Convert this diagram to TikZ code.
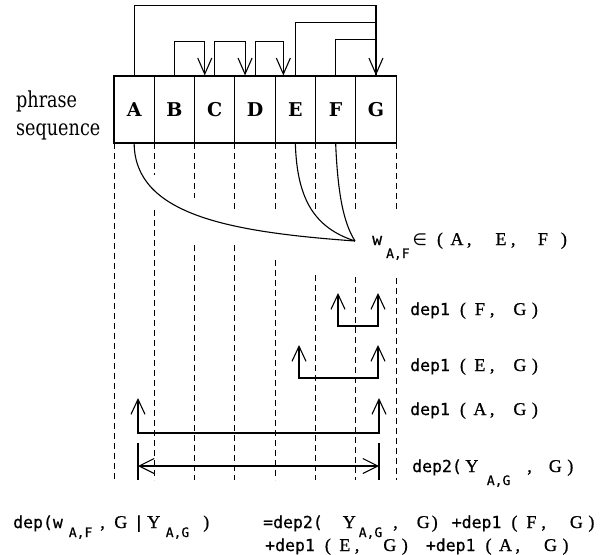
\documentclass[tikz,border=0pt]{standalone}
\usepackage{fontspec}
\setmainfont{DejaVu Serif}
\newfontfamily\phfont[FakeStretch=0.8]{DejaVu Serif}
\newfontfamily\labfont[FakeBold=0.6]{DejaVu Sans Mono}
\newfontfamily\ltfont[FakeBold=0.8]{Liberation Serif}
\newfontfamily\symfont{DejaVu Sans}
\usetikzlibrary{arrows.meta}
\newcommand\lt{\ltfont\fontsize{18}{18}\selectfont}
\newcommand\subx[1]{\raisebox{-13pt}{\labfont\fontsize{13}{13}\selectfont #1}}
\newcommand\subq[1]{\raisebox{-9pt}{\labfont\fontsize{13}{13}\selectfont #1}}
\newcommand\fwc[1]{\makebox[20pt][c]{\lt #1}}
\newcommand\lpar{\makebox[20pt][r]{\lt(\hspace{4pt}}}
\newcommand\rpar{\makebox[20pt][l]{\hspace{2pt}\lt)}}
\newcommand\cmm{\makebox[20pt][l]{\lt,}}
\newcommand\grp[1]{+dep1\lpar\fwc{#1}\cmm\hspace{5pt}\fwc{G}\rpar}
\begin{document}
\begin{tikzpicture}[x=1pt,y=-1pt,
  cell/.style={draw, line width=1.1pt, minimum width=40.3pt, minimum height=67pt, inner sep=0pt, font=\bfseries\fontsize{19}{19}\selectfont},
  link/.style={line width=1.1pt},
  tipE/.style={-{Straight Barb[length=16pt,width=14pt]}},
  uarr/.style={link,{Straight Barb[length=15pt,width=14pt]}-{Straight Barb[length=15pt,width=14pt]}},
  guide/.style={line width=1pt, dash pattern=on 6pt off 4pt},
  lab/.style={font=\labfont\fontsize{16.5}{16.5}\selectfont, inner sep=0pt, anchor=base west},
]
\useasboundingbox (0,0) rectangle (609,554);

% phrase cells
\node[cell] (A) at (134.15,109.5) {A};
\node[cell] (B) at (174.45,109.5) {B};
\node[cell] (C) at (214.75,109.5) {C};
\node[cell] (D) at (255.05,109.5) {D};
\node[cell] (E) at (295.35,109.5) {E};
\node[cell] (F) at (335.65,109.5) {F};
\node[cell] (G) at (375.95,109.5) {G};

\node[font=\phfont\fontsize{22}{28}\selectfont, align=left, anchor=base west, inner sep=0pt] (ph) at (16,135) {phrase\\sequence};

% dependencies above the cells
\draw[link,tipE] (A.north) -- ++(0,-70) -| (G.north);
\draw[link] (E.north) -- ++(0,-53) -| (G.north);
\draw[link] (F.north) -- ++(0,-36) -| (G.north);
\draw[link,tipE] (B.north) -- ++(0,-34) -| ([xshift=-10pt]C.north);
\draw[link,tipE] (C.north) -- ++(0,-34) -| ([xshift=-10pt]D.north);
\draw[link,tipE] (D.north) -- ++(0,-34) -| ([xshift=-12pt]E.north);

% dashed guides
\foreach \x/\a/\b in {114/143/480, 154.3/143/175, 154.3/210/480, 194.6/143/198, 194.6/245/480,
  234.9/143/210, 234.9/245/480, 275.2/143/210, 275.2/260/480, 315.5/143/210, 315.5/275/480,
  355.8/143/210, 355.8/277/480, 396.1/143/210, 396.1/278/480}
  \draw[guide] (\x,\a) -- (\x,\b);

% curves to w
\coordinate (w) at (355,241);
\draw[link] (A.south) .. controls (135,215) and (230,232) .. (w);
\draw[link] (E.south) .. controls (297,200) and (315,228) .. (w);
\draw[link] (F.south) .. controls (338,200) and (345,225) .. (w);

\node[lab] (lw) at (372,245) {w\hspace{4pt}\subx{A,F}\hspace{3pt}{\symfont ∈}\lpar\fwc{A}\cmm\hspace{4pt}\fwc{E}\cmm\hspace{2pt}\fwc{F}\hspace{6pt}\rpar};

% dep1 arrows
\coordinate (fgL) at (338,293); \coordinate (fgR) at (378,293);
\draw[uarr] (fgL) -- ++(0,33) -| (fgR);
\coordinate (egL) at (299,345); \coordinate (egR) at (378,345);
\draw[uarr] (egL) -- ++(0,33) -| (egR);
\coordinate (agL) at (138,398); \coordinate (agR) at (379,398);
\draw[uarr] (agL) -- ++(0,35) -| (agR);

% dep2 arrow
\coordinate (d2L) at (138,466); \coordinate (d2R) at (379,466);
\draw[link,{Straight Barb[length=15pt,width=15pt]}-{Straight Barb[length=15pt,width=15pt]}] (d2L) -- (d2R);
\draw[link] (d2L) ++(0,-23) -- ++(0,37);
\draw[link] (d2R) ++(0,-23) -- ++(0,37);

\node[lab] (lfg) at (410,315) {dep1\lpar\fwc{F}\cmm\fwc{G}\rpar};
\node[lab] (leg) at (410,371) {dep1\lpar\fwc{E}\cmm\fwc{G}\rpar};
\node[lab] (lag) at (410,415) {dep1\lpar\fwc{A}\cmm\fwc{G}\rpar};
\node[lab] (ld2) at (412,472) {dep2(\fwc{Y}\hspace{5pt}\subx{A,G}\hspace{17pt}{\lt,}\hspace{13.5pt}\fwc{G}\hspace{2pt}{\lt)}};

% equation
\node[lab] (eq1a) at (13,528) {dep(w\hspace{6pt}\subq{A,F}\hspace{8pt}{\lt,}\hspace{6pt}\fwc{G}\hspace{3pt}{|}\fwc{Y}\hspace{2pt}\subq{A,G}\hspace{14pt}{\lt)}};
\node[lab] (eq1b) at (263,528) {=dep2(\hspace{20pt}{\lt Y}\hspace{3pt}\subq{A,G}\hspace{11pt}{\lt,}\hspace{19pt}{\lt G}\hspace{2pt}{\lt)}\hspace{14pt}\grp{F}};
\node[lab] (eq2) at (265,551) {\grp{E}\hspace{6pt}\grp{A}};
\end{tikzpicture}
\end{document}
